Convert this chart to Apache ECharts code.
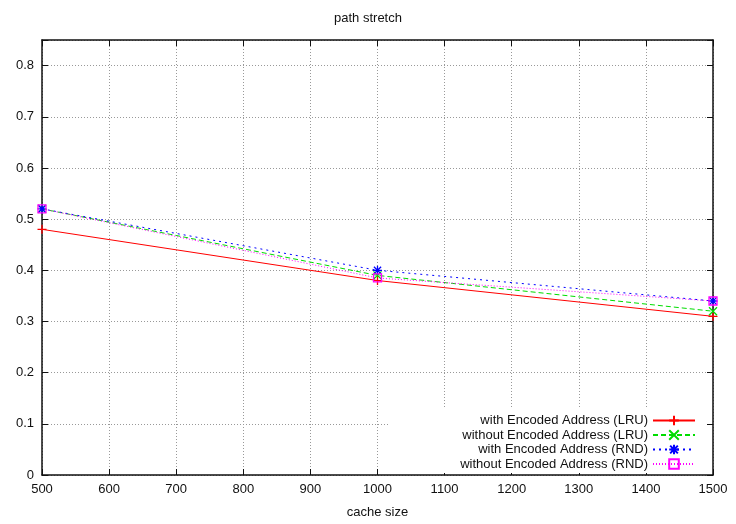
<!DOCTYPE html>
<html><head><meta charset="utf-8">
<script src="https://cdn.jsdelivr.net/npm/echarts@6/dist/echarts.min.js"></script>
<style>html,body{margin:0;padding:0;background:#fff}#c{width:736px;height:524px}</style>
</head><body><div id="c"></div>
<script>
const cacheSizes = [500, 1000, 1500];
const withEncLRU = [0.48, 0.38, 0.31];
const withoutEncLRU = [0.52, 0.39, 0.32];
const withEncRND = [0.52, 0.40, 0.34];
const withoutEncRND = [0.52, 0.385, 0.34];
const seriesNames = ['with Encoded Address (LRU)', 'without Encoded Address (LRU)', 'with Encoded Address (RND)', 'without Encoded Address (RND)'];

const FONT = '"Liberation Sans", Arial, sans-serif';
const pts = arr => cacheSizes.map((x, i) => [x, arr[i]]);
const plus = 'path://M5 0 L5 10 M0 5 L10 5';
const cross = 'path://M0 0 L10 10 M10 0 L0 10';
const star = 'path://M5 0 L5 10 M0 5 L10 5 M1 1 L9 9 M9 1 L1 9';
const square = 'path://M0 0 L10 0 L10 10 L0 10 Z';

function mk(name, data, color, dash, symbol, size, fill) {
  return {
    name, type: 'line', data: pts(data), xAxisIndex: 0, yAxisIndex: 0,
    symbol, symbolSize: size, showSymbol: true, clip: false,
    lineStyle: { color, width: 1, type: dash },
    itemStyle: { color: fill || color, borderColor: color, borderWidth: 1.3 },
    emphasis: { disabled: true }, animation: false, z: 3
  };
}
const series = [
  mk(seriesNames[0], withEncLRU, '#ff0000', 'solid', plus, 9),
  mk(seriesNames[1], withoutEncLRU, '#00dd00', [5, 3], cross, 8),
  mk(seriesNames[2], withEncRND, '#0000ff', [2, 4], star, 9),
  mk(seriesNames[3], withoutEncRND, '#ff00ff', [1, 2], square, 8, 'rgba(0,0,0,0)')
];

const legendTops = [414, 428.5, 443, 457.5];
const legends = seriesNames.map((n, i) => ({
  data: [n], orient: 'vertical', right: 40, top: legendTops[i], align: 'right',
  itemWidth: 42, itemHeight: 12, itemGap: 0, padding: 0, z: 10,
  textStyle: { fontFamily: FONT, fontSize: 13, color: '#111' },
  selectedMode: false
}));

const axisBase = {
  axisLine: { show: true, onZero: false, lineStyle: { color: '#111', width: 1.5 } },
  axisTick: { show: true, inside: true, length: 6, lineStyle: { color: '#111', width: 1 } },
  axisLabel: { fontFamily: FONT, fontSize: 13, color: '#111', margin: 8 }
};

const chart = echarts.init(document.getElementById('c'), null, { renderer: 'canvas' });
chart.setOption({
  animation: false,
  backgroundColor: '#fff',
  title: { text: 'path stretch', left: 'center', top: 7, textStyle: { fontFamily: FONT, fontSize: 13, fontWeight: 'normal', color: '#111' } },
  grid: { left: 42, right: 23, top: 40, bottom: 46, containLabel: false },
  legend: legends,
  graphic: [{ type: 'rect', shape: { x: 390, y: 409, width: 316, height: 64 }, style: { fill: '#fff' }, z: 1 }],
  xAxis: [
    Object.assign({}, axisBase, {
      type: 'value', min: 500, max: 1500, interval: 100, position: 'bottom',
      axisLabel: Object.assign({}, axisBase.axisLabel, { formatter: v => String(v) }),
      name: 'cache size', nameLocation: 'middle', nameGap: 31,
      nameTextStyle: { fontFamily: FONT, fontSize: 13, color: '#111' },
      splitLine: { show: true, lineStyle: { color: '#999', type: [1, 2], width: 1 } }
    }),
    Object.assign({}, axisBase, {
      type: 'value', min: 500, max: 1500, interval: 100, position: 'top',
      axisLabel: { show: false }, splitLine: { show: false }
    })
  ],
  yAxis: [
    Object.assign({}, axisBase, {
      type: 'value', min: 0, max: 0.85, interval: 0.1, position: 'left',
      axisLabel: Object.assign({}, axisBase.axisLabel, { formatter: v => v > 0.81 ? '' : String(Math.round(v * 10) / 10) }),
      splitLine: { show: true, lineStyle: { color: '#999', type: [1, 2], width: 1 } }
    }),
    Object.assign({}, axisBase, {
      type: 'value', min: 0, max: 0.85, interval: 0.1, position: 'right',
      axisLabel: { show: false }, splitLine: { show: false }
    })
  ],
  series
});
</script></body></html>
